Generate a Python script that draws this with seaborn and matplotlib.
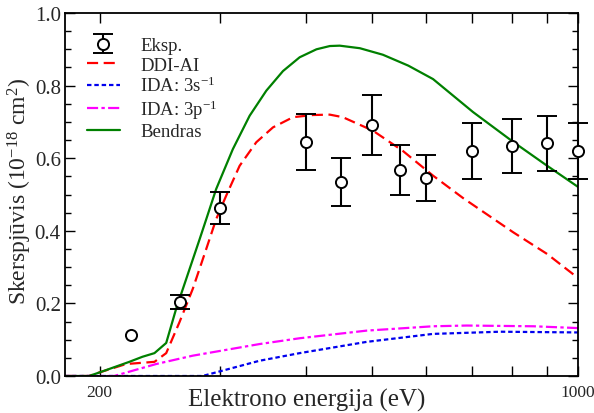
import numpy as np
import pandas as pd
import matplotlib
matplotlib.use("Agg")
import matplotlib.pyplot as plt
import matplotlib.ticker as mticker
import seaborn as sns

# ---- data ----
exp_x = [222, 262, 300, 400, 450, 500, 550, 600, 700, 800, 900, 1000]
exp_y = [0.112, 0.204, 0.464, 0.645, 0.534, 0.691, 0.567, 0.546, 0.620, 0.634, 0.641, 0.621]
exp_err = [np.nan, 0.020, 0.044, 0.077, 0.066, 0.083, 0.068, 0.064, 0.077, 0.074, 0.075, 0.077]

ddi_x = [178, 193, 200, 218.6, 240.5, 250.2, 261.6, 273.6, 286.3, 296, 306.2, 320.3,
         338.8, 358.4, 383.4, 410.1, 433.9, 453.3, 501.4, 554.8, 614, 679.5, 804, 901.6, 1000]
ddi_y = [0, 0, 0.01, 0.033, 0.039, 0.063, 0.148, 0.24, 0.35, 0.432, 0.497, 0.579,
         0.644, 0.685, 0.713, 0.719, 0.72, 0.713, 0.676, 0.62, 0.552, 0.49, 0.396, 0.336, 0.27]

s3_x = [178, 282.7, 342.5, 392, 491, 614, 769.6, 1000]
s3_y = [0, 0, 0.042, 0.063, 0.094, 0.116, 0.122, 0.12]

p3_x = [178, 210, 241.9, 273.6, 342.5, 392, 491, 614, 687.9, 860.3, 1000]
p3_y = [0, 0, 0.033, 0.056, 0.088, 0.104, 0.125, 0.137, 0.139, 0.137, 0.132]

tot_x = [178, 193, 200, 221, 231, 240.5, 250.2, 258.7, 267.6, 280, 286.3, 296, 313.1,
         331.3, 350.4, 370.6, 392, 414.8, 433.9, 448.6, 480, 518.7, 565, 614, 702.6, 804, 901.6, 1000]
tot_y = [0, 0, 0.01, 0.039, 0.053, 0.063, 0.091, 0.185, 0.267, 0.377, 0.432, 0.515, 0.625,
         0.717, 0.786, 0.84, 0.878, 0.900, 0.909, 0.910, 0.903, 0.885, 0.855, 0.818, 0.727, 0.645, 0.579, 0.521]

labels = ["Eksp.", "DDI-AI", "IDA: 3s$^{-1}$", "IDA: 3p$^{-1}$", "Bendras"]
xticks_major = [200, 1000]

# ---- style ----
sns.set_style("ticks")
plt.rcParams["font.family"] = ["Liberation Serif", "DejaVu Serif"]
plt.rcParams["mathtext.fontset"] = "custom"
plt.rcParams["mathtext.rm"] = "Liberation Serif"
plt.rcParams["mathtext.it"] = "Liberation Serif:italic"
plt.rcParams["mathtext.bf"] = "Liberation Serif:bold"

fig = plt.figure(figsize=(5.94, 4.14), dpi=100)
ax = fig.add_axes([65 / 594, 1 - 377 / 414, (578 - 65) / 594, (377 - 14) / 414])

curves = [
    (ddi_x, ddi_y, labels[1], "#ff0000", (0, (5, 2.5))),
    (s3_x, s3_y, labels[2], "#0000ee", (0, (2, 1.3))),
    (p3_x, p3_y, labels[3], "#ff00ff", (0, (5, 1.5, 1.5, 1.5))),
    (tot_x, tot_y, labels[4], "#008000", "-"),
]
for xs, ys, lab, col, ls in curves:
    df = pd.DataFrame({"E": xs, "s": ys})
    sns.lineplot(data=df, x="E", y="s", ax=ax, color=col, lw=1.6,
                 linestyle=ls, label=lab, sort=False)

eb = ax.errorbar(exp_x, exp_y, yerr=exp_err, fmt="o", color="black",
                 mfc="white", mec="black", ms=8, mew=1.4, elinewidth=1.5,
                 capsize=7.5, capthick=1.5, label=labels[0], zorder=5,
                 clip_on=False)

ax.set_xscale("log")
ax.set_xlim(178, 1000)
ax.set_ylim(0, 1.0)
ax.xaxis.set_major_locator(mticker.FixedLocator(xticks_major))
ax.xaxis.set_major_formatter(mticker.FixedFormatter([str(v) for v in xticks_major]))
ax.xaxis.set_minor_locator(mticker.FixedLocator([300, 400, 500, 600, 700, 800, 900]))
ax.xaxis.set_minor_formatter(mticker.NullFormatter())
ax.yaxis.set_major_locator(mticker.MultipleLocator(0.2))
ax.yaxis.set_minor_locator(mticker.MultipleLocator(0.05))
ax.yaxis.set_major_formatter(mticker.FormatStrFormatter("%.1f"))

ax.tick_params(which="both", direction="in", top=True, right=True, color="black", width=1)
ax.tick_params(which="major", length=7)
ax.tick_params(which="minor", length=4)
ax.tick_params(axis="x", which="minor", length=7)
ax.tick_params(axis="y", labelsize=15, pad=3)
ax.tick_params(axis="x", labelsize=12.5, pad=6)
for sp in ax.spines.values():
    sp.set_visible(True)
    sp.set_linewidth(1.3)
    sp.set_color("black")

ax.set_xlabel("Elektrono energija (eV)", fontsize=18)
ax.xaxis.set_label_coords(0.472, -0.033)
ax.set_ylabel("Skerspjūvis (10$^{-18}$ cm$^{2}$)", fontsize=17)
ax.yaxis.set_label_coords(-0.088, 0.512)
ax.yaxis.label.set_verticalalignment("center")

h, l = ax.get_legend_handles_labels()
order = [l.index(x) for x in labels]
ax.legend([h[i] for i in order], [l[i] for i in order], loc="upper left",
          bbox_to_anchor=(0.01, 0.98), frameon=False, fontsize=13.5,
          handlelength=1.75, labelspacing=0.12, handletextpad=1.1)

fig.savefig("out.png", dpi=100)
